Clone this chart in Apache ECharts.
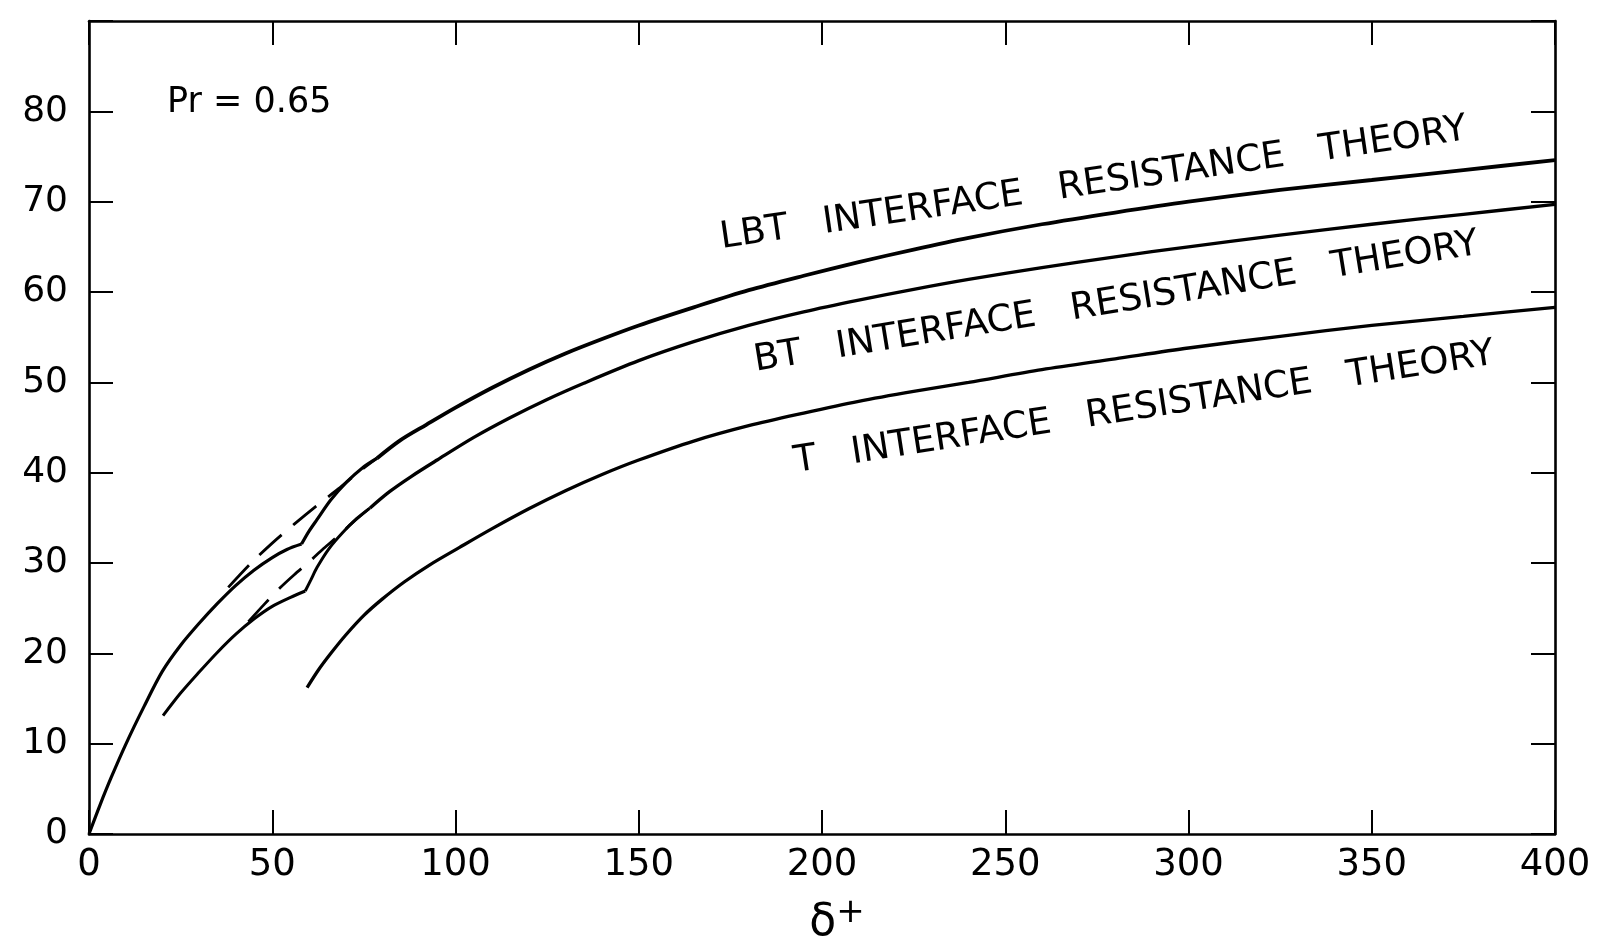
<!DOCTYPE html>
<html>
<head>
<meta charset="utf-8">
<script src="https://cdn.jsdelivr.net/npm/echarts@6/dist/echarts.min.js"></script>
<style>
html,body{margin:0;padding:0;background:#fff;overflow:hidden;}
#chart{width:1619px;height:940px;}
</style>
</head>
<body>
<div id="chart"></div>
<script>
// ---- axis ticks ----
const xTickValues = [0, 50, 100, 150, 200, 250, 300, 350, 400];
const yTickValues = [0, 10, 20, 30, 40, 50, 60, 70, 80];

// ---- curves (x = delta+, y) ----
const upperInner = [[0,0],[3,3.2],[6,6.2],[10,9.9],[15,14.1],[20,18],[25,20.9],[30,23.3],[35,25.5],[40,27.5],[45,29.2],[50,30.6],[54,31.5],[58,32.1]];
const upperRise = [[58,32.1],[60,33.5],[62.2,34.8],[66,37],[70.4,39],[74.5,40.5],[78.6,41.6]];
const lbtDashed = [[38,27.3],[44,29.9],[50,32.2],[56,34.3],[62,36.3],[68,38.2],[74,40.2],[78.6,41.6]];
const lbtMain = [[78.6,41.6],[85,43.6],[92,45.3],[100,47.2],[110,49.4],[120,51.4],[130,53.2],[140,54.8],[150,56.3],[165,58.3],[180,60.2],[195,61.8],[210,63.3],[225,64.7],[240,66],[260,67.5],[280,68.8],[300,70],[325,71.3],[350,72.4],[375,73.5],[400,74.6]];

const lowerInner = [[20.2,13.1],[25,15.6],[30,17.9],[35,20.1],[40,22.1],[45,23.8],[50,25.2],[55,26.2],[59,26.9]];
const lowerRise = [[59,26.9],[60.5,28.1],[62.2,29.5],[65.5,31.6],[69.3,33.4],[73,34.9],[76.7,36.1]];
const btDashed = [[43.5,23.5],[48,25.5],[52,27.2],[56,28.7],[60,30.1],[64,31.6],[68,33],[72,34.5],[76.7,36.1]];
const btMain = [[76.7,36.1],[82,37.9],[88,39.6],[95,41.4],[105,43.9],[115,46.1],[125,48.1],[135,49.9],[150,52.4],[165,54.5],[180,56.3],[195,57.8],[210,59.1],[225,60.3],[240,61.4],[260,62.7],[280,63.9],[300,65],[325,66.3],[350,67.5],[375,68.6],[400,69.7]];

const tMain = [[59.5,16.2],[62.5,18.1],[66,20],[70,22],[75,24.2],[80,26],[86,27.9],[93,29.8],[101,31.7],[110,33.8],[120,36],[130,38],[140,39.8],[150,41.4],[165,43.5],[180,45.2],[195,46.6],[210,47.9],[225,49],[240,50],[260,51.4],[280,52.6],[300,53.8],[325,55.1],[350,56.3],[375,57.3],[400,58.3]];

// ---- annotation texts ----
const curveLabels = ['LBT   INTERFACE   RESISTANCE   THEORY', 'BT   INTERFACE   RESISTANCE   THEORY', 'T   INTERFACE   RESISTANCE   THEORY'];
const curveLabelAnchors = [[173, 63.9], [182.3, 50.3], [193.2, 39.1]];
const curveLabelAngles = [8.3, 9.2, 8.8];
const noteText = 'Pr = 0.65';
const noteAnchor = [21.3, 79.0];

const FONT = 'DejaVu Sans';
const chart = echarts.init(document.getElementById('chart'), null, {renderer: 'canvas'});

function axisCommon(extra) {
  return Object.assign({
    type: 'value',
    axisLine: {show: true, onZero: false, lineStyle: {color: '#000', width: 2.6}},
    axisTick: {show: true, inside: true, length: 24, lineStyle: {color: '#000', width: 2}},
    splitLine: {show: false}
  }, extra);
}

function solid(data, w) {
  return {type: 'line', data: data, symbol: 'none', smooth: 0.3, silent: true,
    lineStyle: {color: '#000', width: w}};
}
function dashed(data) {
  return {type: 'line', data: data, symbol: 'none', smooth: 0.3, silent: true,
    lineStyle: {color: '#000', width: 2.8, type: [30, 15]}};
}

const option = {
  backgroundColor: '#fff',
  animation: false,
  grid: {left: 89, right: 64, top: 21, bottom: 106, containLabel: false, outerBoundsMode: 'none'},
  xAxis: [
    axisCommon({position: 'bottom', min: 0, max: 400, interval: 50,
      axisLabel: {color: '#000', fontSize: 37, fontFamily: FONT, margin: 13},
      name: '{d|δ}{p|+}', nameLocation: 'middle', nameGap: 62,
      nameTextStyle: {padding: [0, 0, 0, 30], rich: {
        d: {fontSize: 44, fontFamily: FONT, color: '#000'},
        p: {fontSize: 34, fontFamily: FONT, color: '#000', verticalAlign: 'top', padding: [0, 0, 22, 0]}
      }}}),
    axisCommon({position: 'top', min: 0, max: 400, interval: 50, axisLabel: {show: false}})
  ],
  yAxis: [
    axisCommon({position: 'left', min: 0, max: 90, interval: 10,
      axisLabel: {color: '#000', fontSize: 36, fontFamily: FONT, margin: 21,
        formatter: function (v) { return yTickValues.indexOf(v) >= 0 ? String(v) : ''; }}}),
    axisCommon({position: 'right', min: 0, max: 90, interval: 10, axisLabel: {show: false}})
  ],
  series: [
    solid(upperInner, 3.2),
    solid(upperRise, 3.2),
    dashed(lbtDashed),
    solid(lbtMain, 3.8),
    solid(lowerInner, 3),
    solid(lowerRise, 3),
    dashed(btDashed),
    solid(btMain, 3.3),
    solid(tMain, 3.3)
  ]
};
chart.setOption(option);

const graphics = [];
curveLabels.forEach(function (txt, i) {
  const p = chart.convertToPixel({gridIndex: 0}, curveLabelAnchors[i]);
  graphics.push({type: 'text', x: p[0], y: p[1], rotation: curveLabelAngles[i] * Math.PI / 180,
    style: {text: txt, fill: '#000', font: '37px "' + FONT + '"', textAlign: 'left', textVerticalAlign: 'bottom'}});
});
const np = chart.convertToPixel({gridIndex: 0}, noteAnchor);
graphics.push({type: 'text', x: np[0], y: np[1],
  style: {text: noteText, fill: '#000', font: '35px "' + FONT + '"', textAlign: 'left', textVerticalAlign: 'bottom'}});
chart.setOption({graphic: graphics});
</script>
</body>
</html>
